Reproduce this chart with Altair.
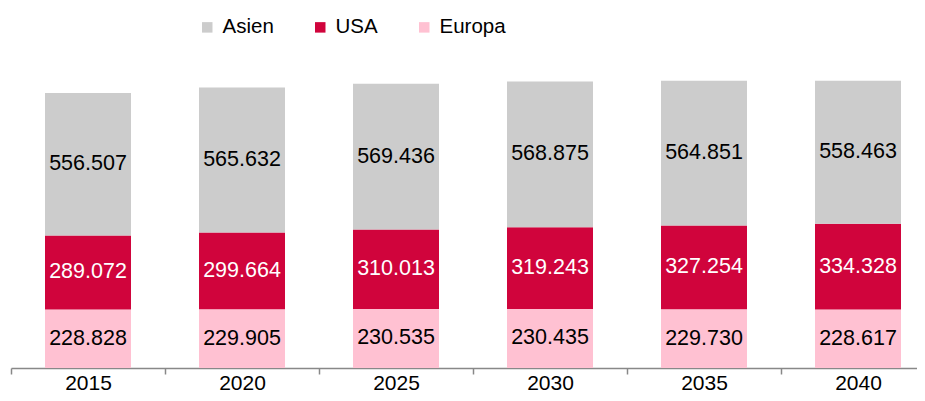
import altair as alt
import pandas as pd

years = ["2015", "2020", "2025", "2030", "2035", "2040"]
asien = [556.507, 565.632, 569.436, 568.875, 564.851, 558.463]
usa = [289.072, 299.664, 310.013, 319.243, 327.254, 334.328]
europa = [228.828, 229.905, 230.535, 230.435, 229.730, 228.617]

regions = ["Asien", "USA", "Europa"]
colors = ["#cccccc", "#d0043c", "#ffc1d2"]
stack_order = {"Europa": 0, "USA": 1, "Asien": 2}

rows = []
for i, y in enumerate(years):
    for name, vals in (("Europa", europa), ("USA", usa), ("Asien", asien)):
        v = vals[i]
        rows.append({"year": y, "region": name, "value": v,
                     "order": stack_order[name], "label": f"{v:.3f}"})
df = pd.DataFrame(rows)

xenc = alt.X("year:N", sort=years, title=None,
             scale=alt.Scale(paddingInner=0.4416, paddingOuter=0.2208, range=[3, 927]),
             axis=alt.Axis(labelAngle=0, labelFontSize=21, labelColor="#000000",
                           labelFont="Liberation Sans", labelPadding=-2,
                           domainColor="#888888", domainWidth=1.5,
                           tickColor="#888888", tickWidth=1.5, tickSize=6,
                           tickOffset=-77, labelOffset=77))

base = alt.Chart(df).transform_stack(
    stack="value", as_=["y0", "y1"], groupby=["year"],
    sort=[alt.SortField("order", order="ascending")]
).transform_calculate(mid="(datum.y0 + datum.y1) / 2")

yscale = alt.Scale(domain=[0, 1406], nice=False, zero=True)

bars = base.mark_bar().encode(
    x=xenc,
    y=alt.Y("y0:Q", scale=yscale, axis=None),
    y2="y1:Q",
    color=alt.Color("region:N", scale=alt.Scale(domain=regions, range=colors),
                    legend=alt.Legend(title=None, orient="none", direction="horizontal",
                                      legendX=189, legendY=9, symbolType="square",
                                      symbolSize=110, symbolStrokeWidth=0,
                                      labelFontSize=20.5, labelFont="Liberation Sans",
                                      labelColor="#000000", labelOffset=5,
                                      columnPadding=36)),
)

text = base.mark_text(fontSize=21.5, font="Liberation Sans").encode(
    x=xenc,
    y=alt.Y("mid:Q", scale=yscale, axis=None),
    text="label:N",
    color=alt.condition(alt.datum.region == "USA", alt.value("#ffffff"), alt.value("#000000")),
)

chart = alt.layer(bars, text).properties(
    width=909, height=360,
    autosize=alt.AutoSizeParams(type="none"),
    padding={"left": 0, "top": 0, "right": 0, "bottom": 25},
).configure_view(stroke=None)

chart.save("out.html", embed_options={"renderer": "svg", "actions": False})
